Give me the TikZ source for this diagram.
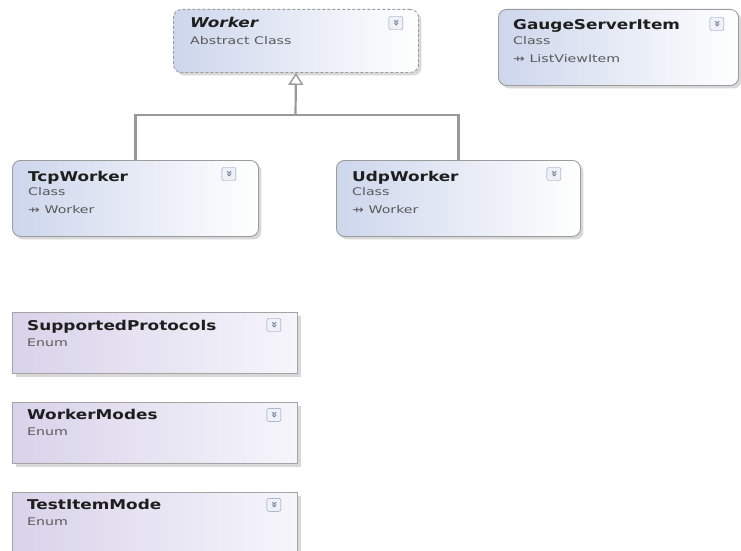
\documentclass[tikz,border=0pt]{standalone}
\usepackage{fontspec}
\setmainfont{DejaVu Sans}
\newfontfamily\headfont{DejaVu Sans}[FakeStretch=1.25]
\newfontfamily\kindfont{DejaVu Sans}[FakeStretch=1.35]
\usepackage{xcolor}
\usetikzlibrary{arrows.meta,positioning,shadows,calc}
\definecolor{boxline}{HTML}{9C9C9C}
\definecolor{classblue}{HTML}{CDD6EC}
\definecolor{enumline}{HTML}{A4A4A4}
\definecolor{enumlilac}{HTML}{D8D3EA}
\definecolor{enumwhite}{HTML}{F6F5FB}
\definecolor{titlegray}{HTML}{1E1E1E}
\definecolor{kindgray}{HTML}{5A5A5A}
\definecolor{linkgray}{HTML}{999999}
\definecolor{togglerim}{HTML}{8A98B8}
\definecolor{togglefill}{HTML}{EEF1F8}

\begin{document}
\begin{tikzpicture}[x=1pt,y=-1pt,node distance=28pt,>=Latex]
  \tikzstyle{classbox}=[draw=boxline,line width=0.9pt,rounded corners=8pt,left color=classblue,right color=white,drop shadow={opacity=0.3,shadow xshift=3pt,shadow yshift=-3pt},anchor=north west,inner sep=0pt]
  \tikzstyle{enumbox}=[draw=enumline,line width=0.9pt,left color=enumlilac,right color=enumwhite,drop shadow={opacity=0.3,shadow xshift=4pt,shadow yshift=-4pt},anchor=north west,inner sep=0pt,minimum width=285pt,minimum height=61pt]
  \tikzstyle{title}=[anchor=base west,inner sep=0pt,text=titlegray,font=\headfont\bfseries\fontsize{13.5}{16}\selectfont]
  \tikzstyle{kind}=[anchor=base west,inner sep=0pt,text=kindgray,font=\kindfont\fontsize{10.5}{12}\selectfont]
  \tikzstyle{toggle}=[draw=togglerim,fill=togglefill,rounded corners=2pt,minimum width=14pt,minimum height=13pt,inner sep=0pt,text=togglerim!80!black,font=\bfseries\fontsize{11}{11}\selectfont]
  \tikzstyle{link}=[draw=linkgray,line width=2.2pt]
  \path[fill=white,use as bounding box] (0,0) rectangle (741,551);

  % classes
  \node[classbox,densely dashed,minimum width=245pt,minimum height=63pt] (worker) at (173,9) {};
  \node[classbox,minimum width=240pt,minimum height=76pt] (gauge) at (498,9) {};
  \node[classbox,minimum width=246pt,minimum height=76pt] (tcp) at (12,160) {};
  \node[classbox,minimum width=244pt,minimum height=76pt] (udp) at (336,160) {};

  % enums
  \node[enumbox] (protocols) at (12,312) {};
  \node[enumbox,below=of protocols] (modes) {};
  \node[enumbox,below=of modes,minimum height=64pt] (itemmode) {};

  % inheritance
  \coordinate (fork) at (295.5,115);
  \draw[link] (tcp.north) |- (fork) -| (udp.north);
  \draw[link,-{Triangle[width=15pt,length=12pt,fill=white,line width=1.4pt]}] (fork) -- (worker.south);

  % texts
  \node[title,font=\headfont\bfseries\itshape\fontsize{13.5}{16}\selectfont] (worker-name) at ($(worker.north west)+(17,19)$) {Worker};
  \node[kind] (worker-kind) at ($(worker.north west)+(17,36)$) {Abstract Class};
  \node[title] (gauge-name) at ($(gauge.north west)+(15,21)$) {GaugeServerItem};
  \node[kind] (gauge-kind) at ($(gauge.north west)+(15,36)$) {Class};
  \node[kind] (gauge-base) at ($(gauge.north west)+(15,54)$) {⇸ ListViewItem};
  \node[title] (tcp-name) at ($(tcp.north west)+(16,21)$) {TcpWorker};
  \node[kind] (tcp-kind) at ($(tcp.north west)+(16,35)$) {Class};
  \node[kind] (tcp-base) at ($(tcp.north west)+(16,53)$) {⇸ Worker};
  \node[title] (udp-name) at ($(udp.north west)+(16,21)$) {UdpWorker};
  \node[kind] (udp-kind) at ($(udp.north west)+(16,35)$) {Class};
  \node[kind] (udp-base) at ($(udp.north west)+(16,53)$) {⇸ Worker};
  \foreach \b/\t in {protocols/SupportedProtocols,modes/WorkerModes,itemmode/TestItemMode} {
    \node[title] (\b-name) at ($(\b.north west)+(15,18)$) {\t};
    \node[kind] (\b-kind) at ($(\b.north west)+(15,34)$) {Enum};
  }

  % collapse buttons
  \foreach \b/\dx/\dy in {worker/-23/14,gauge/-22/15,tcp/-30/14,udp/-27/14,protocols/-24/13,modes/-24/13,itemmode/-24/13}
    \node[toggle] (\b-toggle) at ($(\b.north east)+(\dx,\dy)$) {\rotatebox{-90}{»}};
\end{tikzpicture}
\end{document}
